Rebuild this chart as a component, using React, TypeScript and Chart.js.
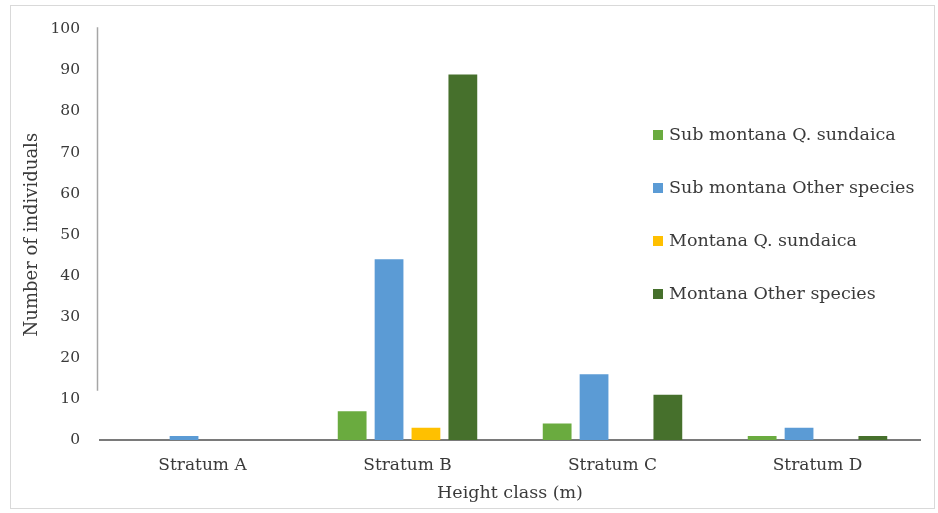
import React, { useEffect, useRef } from "react";
import { Chart, registerables } from "chart.js";

Chart.register(...registerables);

const categories = ["Stratum A", "Stratum B", "Stratum C", "Stratum D"];
const seriesNames = [
  "Sub montana Q. sundaica",
  "Sub montana Other species",
  "Montana Q. sundaica",
  "Montana Other species",
];
const subMontanaQ = [0, 7, 4, 1];
const subMontanaOther = [1, 44, 16, 3];
const montanaQ = [0, 3, 0, 0];
const montanaOther = [0, 89, 11, 1];
const seriesColors = ["#6aab3f", "#5b9bd5", "#ffc000", "#46702c"];
const yTitle = "Number of individuals";
const xTitle = "Height class (m)";

const FONT = "'DejaVu Serif', 'Liberation Serif', serif";
const TEXT = "#3a3a3a";

const framePlugin = {
  id: "frame",
  beforeDraw(chart: any) {
    const ctx = chart.ctx;
    ctx.save();
    ctx.fillStyle = "#ffffff";
    ctx.fillRect(0, 0, chart.width, chart.height);
    ctx.strokeStyle = "#d9d9d9";
    ctx.lineWidth = 1;
    ctx.strokeRect(10.5, 5.5, 924, 503);
    ctx.restore();
  },
};

const axisLinePlugin = {
  id: "yAxisLine",
  afterDraw(chart: any) {
    const ctx = chart.ctx;
    const y = chart.scales.y;
    const x = chart.chartArea.left - 2.5;
    ctx.save();
    ctx.strokeStyle = "#a6a6a6";
    ctx.lineWidth = 1.5;
    ctx.beginPath();
    ctx.moveTo(x, y.getPixelForValue(100) - 2);
    ctx.lineTo(x, y.getPixelForValue(12));
    ctx.stroke();
    ctx.restore();
  },
};

const legendPlugin = {
  id: "customLegend",
  afterDraw(chart: any) {
    const ctx = chart.ctx;
    ctx.save();
    ctx.font = `17.5px ${FONT}`;
    ctx.textBaseline = "middle";
    chart.data.datasets.forEach((ds: any, i: number) => {
      const cy = 135 + i * 53;
      ctx.fillStyle = ds.backgroundColor;
      ctx.fillRect(653, cy - 5, 10, 10);
      ctx.fillStyle = TEXT;
      ctx.fillText(ds.label, 669, cy);
    });
    ctx.restore();
  },
};

export default function App() {
  const ref = useRef<HTMLCanvasElement | null>(null);
  useEffect(() => {
    if (!ref.current) return;
    const values = [subMontanaQ, subMontanaOther, montanaQ, montanaOther];
    const chart = new Chart(ref.current, {
      type: "bar",
      data: {
        labels: categories,
        datasets: values.map((v, i) => ({
          label: seriesNames[i],
          data: v,
          backgroundColor: seriesColors[i],
          categoryPercentage: 0.72,
          barPercentage: 0.78,
        })),
      },
      options: {
        animation: false,
        responsive: false,
        maintainAspectRatio: false,
        layout: { padding: { top: 25, right: 18, left: 0, bottom: 0 } },
        plugins: { legend: { display: false }, tooltip: { enabled: false } },
        scales: {
          x: {
            grid: { display: false, drawTicks: false },
            border: { display: true, color: "#7a7a7a", width: 2 },
            ticks: {
              color: TEXT,
              font: { family: FONT, size: 17 },
              padding: 15,
              maxRotation: 0,
            },
            title: {
              display: true,
              text: xTitle,
              color: TEXT,
              font: { family: FONT, size: 17.5 },
              padding: { top: 0, bottom: 9 },
            },
            afterFit: (s: any) => {
              s.height = 73;
            },
          },
          y: {
            min: 0,
            max: 100,
            grid: { display: false, drawTicks: false },
            border: { display: false },
            ticks: {
              stepSize: 10,
              color: TEXT,
              font: { family: FONT, size: 15.5 },
              padding: 20,
            },
            title: {
              display: true,
              text: yTitle,
              color: TEXT,
              font: { family: FONT, size: 18 },
              padding: { top: 22, bottom: 0 },
            },
            afterFit: (s: any) => {
              s.width = 100;
            },
          },
        },
      },
      plugins: [framePlugin, axisLinePlugin, legendPlugin],
    });
    return () => chart.destroy();
  }, []);
  return (
    <div style={{ position: "fixed", left: 0, top: 0, width: 938, height: 513 }}>
      <canvas ref={ref} width={938} height={513} style={{ display: "block" }} />
    </div>
  );
}
